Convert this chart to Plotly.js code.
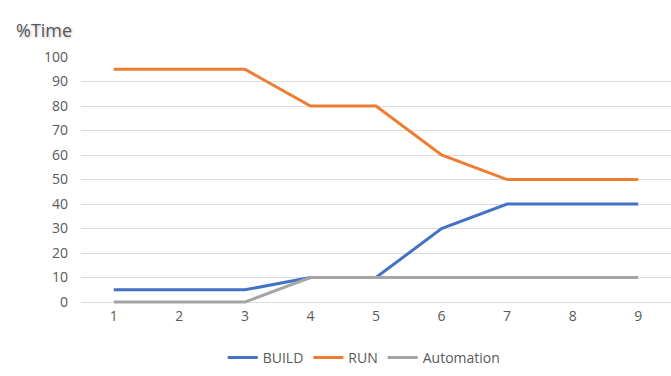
<!DOCTYPE html>
<html>
<head>
<meta charset="utf-8">
<script src="https://cdn.plot.ly/plotly-3.0.1.min.js"></script>
<style>html,body{margin:0;padding:0;background:#fff;}#chart{width:671px;height:376px;}</style>
</head>
<body>
<div id="chart"></div>
<script>
const categories = ['1','2','3','4','5','6','7','8','9'];
const build = [5, 5, 5, 10, 10, 30, 40, 40, 40];
const run = [95, 95, 95, 80, 80, 60, 50, 50, 50];
const automation = [0, 0, 0, 10, 10, 10, 10, 10, 10];
const yTicks = [0,10,20,30,40,50,60,70,80,90,100];

const font = 'Open Sans, Liberation Sans, sans-serif';
const traces = [
  {x: categories, y: build, name: 'BUILD', type: 'scatter', mode: 'lines', line: {color: '#4472C4', width: 3}},
  {x: categories, y: run, name: 'RUN', type: 'scatter', mode: 'lines', line: {color: '#ED7D31', width: 3}},
  {x: categories, y: automation, name: 'Automation', type: 'scatter', mode: 'lines', line: {color: '#A5A5A5', width: 3}}
];
const layout = {
  width: 671, height: 376,
  margin: {l: 81, r: 0, t: 57, b: 71},
  paper_bgcolor: '#fff', plot_bgcolor: '#fff',
  font: {family: font, size: 14, color: '#595959'},
  title: {text: '%Time', x: 16/671, xanchor: 'left', y: 1 - 31/376, yanchor: 'middle',
          font: {family: font, size: 18, color: '#595959', shadow: '1px 1px 3px rgba(0,0,0,0.25)'}},
  xaxis: {type: 'category', range: [-0.5, 8.5], showgrid: false, zeroline: false, showline: false,
          ticks: '', ticklabelstandoff: 1, tickfont: {size: 14, color: '#595959'}, fixedrange: true},
  yaxis: {range: [-1.2, 100], tickvals: yTicks, showgrid: true, gridcolor: '#DCDCDC', gridwidth: 1,
          zeroline: false, showline: false, ticks: '', ticklabelstandoff: 12,
          tickfont: {size: 14, color: '#595959'}, fixedrange: true},
  showlegend: true,
  legend: {orientation: 'h', x: 0.48, xanchor: 'center', y: -53/248, yanchor: 'middle',
           font: {size: 14, color: '#595959'}, tracegroupgap: 0}
};
Plotly.newPlot('chart', traces, layout, {displayModeBar: false, staticPlot: true});
</script>
</body>
</html>
